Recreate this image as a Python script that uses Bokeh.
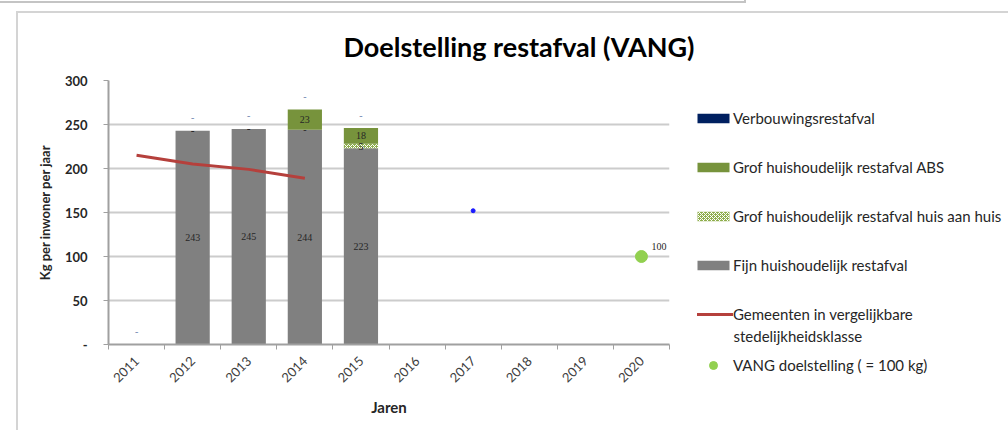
import math
from bokeh.plotting import figure
from bokeh.layouts import row
from bokeh.models import (Legend, LegendItem, Label, LabelSet, FixedTicker,
                          ColumnDataSource, Range1d)
from bokeh.embed import file_html
from bokeh.resources import INLINE

# ---------------- data ----------------
years = ["2011", "2012", "2013", "2014", "2015", "2016", "2017", "2018", "2019", "2020"]
bar_years = ["2011", "2012", "2013", "2014", "2015"]
fijn = [0, 243, 245, 244, 223]            # Fijn huishoudelijk restafval
huis_aan_huis = [0, 0, 0, 0, 5]          # Grof huishoudelijk restafval huis aan huis
abs_grof = [0, 0, 0, 23, 18]             # Grof huishoudelijk restafval ABS
verbouwing = [0, 0, 0, 0, 0]             # Verbouwingsrestafval
gem_years = ["2011", "2012", "2013", "2014"]
gemeenten = [215, 205, 199, 189]         # Gemeenten in vergelijkbare stedelijkheidsklasse
vang_years = ["2020"]
vang = [100]                             # VANG doelstelling
extra_years = ["2017"]
extra = [152]
y_ticks = [0, 50, 100, 150, 200, 250, 300]

FONT = "Lato"
C_FIJN = "#808080"
C_HUIS = "#8fae4e"
C_ABS = "#77933c"
C_VERB = "#002060"
C_GEM = "#b5403c"
C_VANG = "#92d050"

def xpos(ys):
    return [years.index(y) + 0.5 for y in ys]

def lab(v):
    return "-" if v == 0 else str(v)

bx = xpos(bar_years)
b1 = [0] * len(fijn)
t1 = [a + b for a, b in zip(b1, fijn)]
t2 = [a + b for a, b in zip(t1, huis_aan_huis)]
t3 = [a + b for a, b in zip(t2, abs_grof)]
t4 = [a + b for a, b in zip(t3, verbouwing)]

src = ColumnDataSource(dict(
    x=bx, b1=b1, t1=t1, t2=t2, t3=t3, t4=t4,
    m1=[(a + b) / 2 for a, b in zip(b1, t1)],
    m2=[(a + b) / 2 for a, b in zip(t1, t2)],
    m3=[(a + b) / 2 for a, b in zip(t2, t3)],
    l1=[lab(v) for v in fijn],
    l2=[lab(v) for v in huis_aan_huis],
    l3=[lab(v) for v in abs_grof],
    l4=[lab(v) for v in verbouwing],
))

W = 0.61
hatch_kw = dict(hatch_pattern="diagonal_cross", hatch_color="white",
                hatch_scale=4, hatch_weight=1)

def add_series(fig, visible=True):
    r_fijn = fig.vbar(x="x", bottom="b1", top="t1", width=W, source=src,
                      fill_color=C_FIJN, line_color=None, visible=visible)
    r_huis = fig.vbar(x="x", bottom="t1", top="t2", width=W, source=src,
                      fill_color=C_HUIS, line_color=None, visible=visible, **hatch_kw)
    r_abs = fig.vbar(x="x", bottom="t2", top="t3", width=W, source=src,
                     fill_color=C_ABS, line_color=None, visible=visible)
    r_verb = fig.vbar(x="x", bottom="t3", top="t4", width=W, source=src,
                      fill_color=C_VERB, line_color=None, visible=visible)
    r_gem = fig.line(xpos(gem_years), gemeenten, line_color=C_GEM, line_width=3,
                     visible=visible)
    r_vang = fig.scatter(xpos(vang_years), vang, size=12, color=C_VANG,
                         visible=visible)
    return r_verb, r_abs, r_huis, r_fijn, r_gem, r_vang

# ---------------- main chart ----------------
p = figure(width=697, height=430, output_backend="svg", toolbar_location=None,
           x_range=Range1d(0, len(years)), y_range=Range1d(0, 300),
           min_border_left=108, min_border_right=28, min_border_top=80,
           min_border_bottom=86)
p.frame_align = False
p.outline_line_color = None
p.background_fill_color = "white"
p.border_fill_color = None

add_series(p)
p.scatter(xpos(extra_years), extra, size=4, color="#1a1aff")

lbl_kw = dict(text_font=FONT, text_font_size="10px", text_color="#262626",
              text_align="center", text_baseline="middle", source=src)
p.add_layout(LabelSet(x="x", y="m1", text="l1", **lbl_kw))
p.add_layout(LabelSet(x="x", y="m2", text="l2", **lbl_kw))
p.add_layout(LabelSet(x="x", y="m3", text="l3", **lbl_kw))
p.add_layout(LabelSet(x="x", y="t4", text="l4", y_offset=13,
                      text_font=FONT, text_font_size="10px", text_color="#6f86b0",
                      text_align="center", text_baseline="middle", source=src))
vsrc = ColumnDataSource(dict(x=xpos(vang_years), y=vang, t=[str(v) for v in vang]))
p.add_layout(LabelSet(x="x", y="y", text="t", source=vsrc, x_offset=10, y_offset=10,
                      text_font=FONT, text_font_size="10px", text_color="#262626",
                      text_align="left", text_baseline="middle"))

# axes
p.xaxis.ticker = FixedTicker(ticks=[i + 0.5 for i in range(len(years))],
                             minor_ticks=list(range(len(years) + 1)))
p.xaxis.major_label_overrides = {i + 0.5: y for i, y in enumerate(years)}
p.xaxis.major_label_orientation = math.pi / 4
p.xaxis.major_tick_line_color = None
p.xaxis.minor_tick_in = 0
p.xaxis.minor_tick_out = 5
p.xaxis.minor_tick_line_color = "#a0a0a0"
p.xaxis.axis_line_color = "#a0a0a0"
p.xaxis.axis_line_width = 2
p.xaxis.major_label_text_font = FONT
p.xaxis.major_label_text_font_size = "13px"
p.xaxis.major_label_text_color = "#404040"
p.xaxis.major_label_standoff = 8
p.xaxis.axis_label = "Jaren"
p.xaxis.axis_label_text_font = FONT
p.xaxis.axis_label_text_font_size = "15px"
p.xaxis.axis_label_text_font_style = "bold"
p.xaxis.axis_label_text_color = "#262626"
p.xaxis.axis_label_standoff = 8

p.yaxis.ticker = FixedTicker(ticks=y_ticks)
p.yaxis.major_label_overrides = {0: "-"}
p.yaxis.major_tick_in = 0
p.yaxis.major_tick_out = 5
p.yaxis.major_tick_line_color = "#a0a0a0"
p.yaxis.minor_tick_line_color = None
p.yaxis.axis_line_color = "#a0a0a0"
p.yaxis.axis_line_width = 2
p.yaxis.major_label_text_font = FONT
p.yaxis.major_label_text_font_size = "13px"
p.yaxis.major_label_text_font_style = "bold"
p.yaxis.major_label_text_color = "#262626"
p.yaxis.major_label_standoff = 16
p.yaxis.axis_label = "Kg per inwoner per jaar"
p.yaxis.axis_label_text_font = FONT
p.yaxis.axis_label_text_font_size = "13px"
p.yaxis.axis_label_text_font_style = "bold"
p.yaxis.axis_label_text_color = "#262626"
p.yaxis.axis_label_standoff = 9

p.xgrid.grid_line_color = None
p.ygrid.grid_line_color = "#cccccc"
p.ygrid.grid_line_width = 2

# title
p.title.text = "Doelstelling restafval (VANG)"
p.title.align = "left"
p.title.offset = 235
p.title.standoff = 36
p.title.text_font = FONT
p.title.text_font_size = "27px"
p.title.text_font_style = "bold"
p.title.text_color = "#000000"

# ---------------- legend panel ----------------
q = figure(width=311, height=430, output_backend="svg", toolbar_location=None,
           x_range=Range1d(0, len(years)), y_range=Range1d(0, 300),
           min_border=0)
q.frame_align = False
q.axis.visible = False
q.grid.visible = False
q.outline_line_color = None
q.background_fill_color = None
q.border_fill_color = None

g_verb, g_abs, g_huis, g_fijn, g_gem, g_vang = add_series(q, visible=False)

leg_kw = dict(padding=0, margin=0, label_standoff=0, glyph_width=40,
              border_line_color=None, background_fill_alpha=0,
              inactive_fill_alpha=0, click_policy="none",
              label_text_font=FONT, label_text_font_size="15px",
              label_text_color="#262626")
leg1 = Legend(items=[
    LegendItem(label="Verbouwingsrestafval", renderers=[g_verb]),
    LegendItem(label="Grof huishoudelijk restafval ABS", renderers=[g_abs]),
    LegendItem(label="Grof huishoudelijk restafval huis aan huis", renderers=[g_huis]),
    LegendItem(label="Fijn huishoudelijk restafval", renderers=[g_fijn]),
    LegendItem(label="Gemeenten in vergelijkbare", renderers=[g_gem]),
], location=(-4, 107), glyph_height=12, label_height=12, spacing=31, **leg_kw)
leg2 = Legend(items=[
    LegendItem(label="VANG doelstelling ( = 100 kg)", renderers=[g_vang]),
], location=(-4, 55), glyph_height=20, label_height=20, **leg_kw)
q.add_layout(leg1, "center")
q.add_layout(leg2, "center")
q.add_layout(Label(x=36, y=95, x_units="screen", y_units="screen",
                   text="stedelijkheidsklasse", text_font=FONT,
                   text_font_size="15px", text_color="#262626",
                   text_align="left", text_baseline="middle"))

layout = row(p, q, spacing=0, styles={
    "background": ("linear-gradient(#d4d4d4,#d4d4d4) 16px 11px / 2px 100% no-repeat, "
                   "linear-gradient(#d4d4d4,#d4d4d4) 16px 11px / 100% 2px no-repeat, "
                   "linear-gradient(#c4c4c4,#c4c4c4) 0px 1px / 746px 2px no-repeat, "
                   "linear-gradient(#c4c4c4,#c4c4c4) 744px 0px / 2px 3px no-repeat, white")
})

open("out.html", "w").write(file_html(layout, INLINE))
